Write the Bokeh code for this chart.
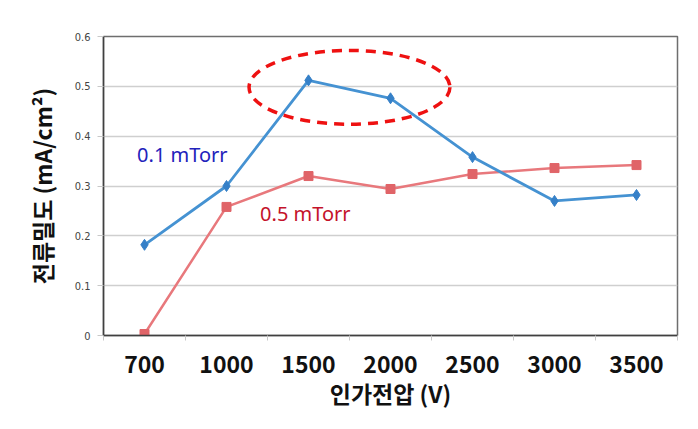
from bokeh.plotting import figure
from bokeh.models import FixedTicker, Label, Range1d
from bokeh.embed import file_html
from bokeh.resources import INLINE

voltages = ["700", "1000", "1500", "2000", "2500", "3000", "3500"]
j_01mtorr = [0.182, 0.300, 0.512, 0.476, 0.358, 0.270, 0.282]
j_05mtorr = [0.003, 0.258, 0.320, 0.294, 0.324, 0.336, 0.342]
y_ticks = [0, 0.1, 0.2, 0.3, 0.4, 0.5, 0.6]

xs = [i + 0.5 for i in range(len(voltages))]

p = figure(width=682, height=413, output_backend="svg", toolbar_location=None,
           x_range=Range1d(0, len(voltages)), y_range=Range1d(0, 0.6),
           min_border_left=103, min_border_right=5, min_border_top=36, min_border_bottom=78)

p.background_fill_color = "white"
p.border_fill_color = "white"
p.outline_line_color = "#6e6e6e"
p.outline_line_width = 1.5

# x axis
p.xaxis.ticker = FixedTicker(ticks=xs, minor_ticks=list(range(len(voltages) + 1)))
p.xaxis.major_label_overrides = {x: v for x, v in zip(xs, voltages)}
p.xaxis.major_tick_line_color = None
p.xaxis.minor_tick_out = 5
p.xaxis.minor_tick_in = 0
p.xaxis.minor_tick_line_color = "#c8c8c8"
p.xaxis.axis_line_color = "#404040"
p.xaxis.axis_line_width = 1.5
p.xaxis.major_label_text_font = "Noto Sans CJK KR"
p.xaxis.major_label_text_font_style = "bold"
p.xaxis.major_label_text_font_size = "23px"
p.xaxis.major_label_text_color = "#111111"
p.xaxis.major_label_standoff = 14
p.xaxis.axis_label = "인가전압 (V)"
p.xaxis.axis_label_text_font = "Noto Sans CJK KR"
p.xaxis.axis_label_text_font_style = "bold"
p.xaxis.axis_label_text_font_size = "23px"
p.xaxis.axis_label_text_color = "#111111"
p.xaxis.axis_label_standoff = 0

# y axis
p.yaxis.ticker = FixedTicker(ticks=y_ticks)
p.yaxis.major_label_overrides = {0: "0", 0.1: "0.1", 0.2: "0.2", 0.3: "0.3", 0.4: "0.4", 0.5: "0.5", 0.6: "0.6"}
p.yaxis.major_tick_out = 6
p.yaxis.major_tick_in = 0
p.yaxis.major_tick_line_color = "#c8c8c8"
p.yaxis.minor_tick_line_color = None
p.yaxis.axis_line_color = "#404040"
p.yaxis.axis_line_width = 1.5
p.yaxis.major_label_text_font = "'DejaVu Sans Condensed', 'Liberation Sans', sans-serif"
p.yaxis.major_label_text_font_size = "11px"
p.yaxis.major_label_text_color = "#444444"
p.yaxis.major_label_standoff = 7
p.yaxis.axis_label = "전류밀도 (mA/cm²)"
p.yaxis.axis_label_text_font = "Noto Sans CJK KR"
p.yaxis.axis_label_text_font_style = "bold"
p.yaxis.axis_label_text_font_size = "23px"
p.yaxis.axis_label_text_color = "#111111"
p.yaxis.axis_label_standoff = 13

p.xgrid.grid_line_color = None
p.ygrid.grid_line_color = "#cfcfcf"
p.ygrid.grid_line_width = 1.5

# series
blue = "#4592d2"
red = "#e8787c"
p.line(xs, j_05mtorr, line_color=red, line_width=2.5)
p.scatter(xs, j_05mtorr, marker="square", size=9, fill_color="#e06468", line_color="#e06468")
p.line(xs, j_01mtorr, line_color=blue, line_width=2.8)
p.scatter(xs, j_01mtorr, marker="diamond", size=11, fill_color="#3580c8", line_color="#3580c8")

# highlight ellipse
p.ellipse(x=[3.0], y=[0.498], width=2.45, height=0.148, fill_color=None,
          line_color="#ee1111", line_width=3.5, line_dash="10 7")

# series labels
p.add_layout(Label(x=0.41, y=0.364, text="0.1 mTorr", text_color="#2222bb",
                   text_font="Noto Sans", text_font_size="20px", text_baseline="middle"))
p.add_layout(Label(x=1.91, y=0.244, text="0.5 mTorr", text_color="#c4122a",
                   text_font="Noto Sans", text_font_size="20px", text_baseline="middle"))

open("out.html", "w").write(file_html(p, INLINE))
